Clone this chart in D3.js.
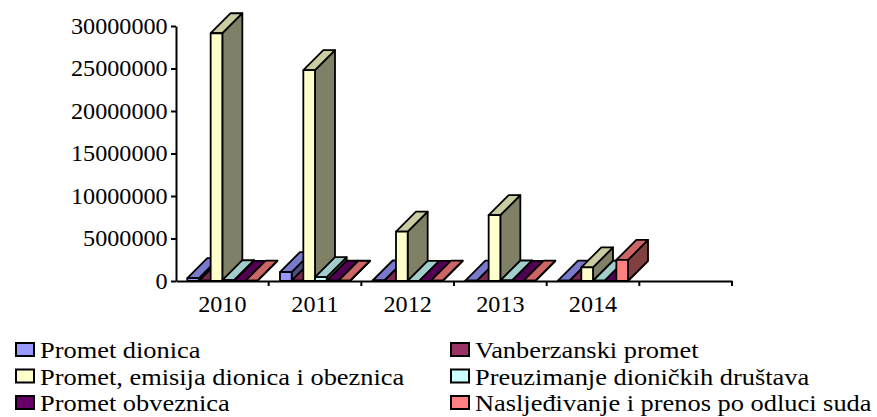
<!DOCTYPE html>
<html>
<head>
<meta charset="utf-8">
<script src="https://cdn.jsdelivr.net/npm/d3@7"></script>
<style>
  body { margin: 0; background: #fff; }
  svg { display: block; font-family: "Liberation Serif", "Times New Roman", serif; }
</style>
</head>
<body>
<svg id="chart" width="877" height="417"></svg>
<script>
// categories (last one is an empty slot on the axis)
const years = ['2010', '2011', '2012', '2013', '2014', ''];

// series values
const prometDionica = [350000, 1050000, 60000, 40000, 50000];
const vanberzanskiPromet = [30000, 40000, 20000, 20000, 30000];
const prometEmisija = [29150000, 24800000, 5800000, 7750000, 1600000];
const preuzimanje = [90000, 450000, 20000, 60000, 30000];
const prometObveznica = [20000, 30000, 10000, 20000, 10000];
const nasljedivanje = [40000, 30000, 40000, 50000, 2480000];

const seriesNames = [
  'Promet dionica',
  'Vanberzanski promet',
  'Promet, emisija dionica i obeznica',
  'Preuzimanje dioničkih društava',
  'Promet obveznica',
  'Nasljeđivanje i prenos po odluci suda'
];
const yTicks = [0, 5000000, 10000000, 15000000, 20000000, 25000000, 30000000];

const seriesColors = ['#9999ff', '#993366', '#ffffcc', '#ccffff', '#660066', '#ff8080'];

const series = [prometDionica, vanberzanskiPromet, prometEmisija, preuzimanje, prometObveznica, nasljedivanje]
  .map((values, i) => ({ name: seriesNames[i], color: seriesColors[i], values }));

const svg = d3.select('#chart');
const plotLeft = 176, plotRight = 732, plotTop = 26, plotBase = 281;
const depth = 20;
const axisStretch = 1.05, legendStretch = 1.1;

const x = d3.scaleBand().domain(years).range([plotLeft, plotRight]).padding(0);
const inner = d3.scaleBand().domain(d3.range(series.length))
  .range([x.bandwidth() * 0.122, x.bandwidth() * 0.878]).padding(0);
const y = d3.scaleLinear().domain([0, 30000000]).range([plotBase, plotTop]);

const shade = (c, k) => {
  const r = d3.rgb(c);
  return d3.rgb(r.r * k, r.g * k, r.b * k).formatHex();
};

// bars, left to right so later ones cover the side faces
const bars = [];
years.slice(0, 5).forEach((yr, ci) => {
  series.forEach((s, si) => {
    bars.push({ yr, si, v: s.values[ci], color: s.color });
  });
});

const g = svg.append('g')
  .attr('stroke', '#000')
  .attr('stroke-width', 1.8)
  .attr('stroke-linejoin', 'round');

bars.forEach((b) => {
  const x0 = x(b.yr) + inner(b.si);
  const w = inner.bandwidth();
  const y1 = y(b.v);
  const y0 = y(0);
  const bar = g.append('g');
  bar.append('polygon')
    .attr('points', [[x0 + w, y1], [x0 + w, y0], [x0 + w + depth, y0 - depth], [x0 + w + depth, y1 - depth]].join(' '))
    .attr('fill', shade(b.color, 0.5));
  bar.append('polygon')
    .attr('points', [[x0, y1], [x0 + w, y1], [x0 + w + depth, y1 - depth], [x0 + depth, y1 - depth]].join(' '))
    .attr('fill', shade(b.color, 0.8));
  bar.append('rect')
    .attr('x', x0)
    .attr('y', y1)
    .attr('width', w)
    .attr('height', y0 - y1)
    .attr('fill', b.color);
});

// y axis
const yAxis = svg.append('g')
  .attr('transform', `translate(${plotLeft},0)`)
  .call(d3.axisLeft(y).tickValues(yTicks).tickFormat(d3.format('d')).tickSize(5).tickSizeOuter(0).tickPadding(3));
yAxis.select('.domain').attr('stroke-width', 2);
yAxis.selectAll('.tick line').attr('stroke-width', 2);
yAxis.selectAll('.tick text')
  .attr('font-size', 23)
  .attr('font-family', '"Liberation Serif", "Times New Roman", serif')
  .attr('fill', '#000')
  .attr('transform', `scale(${axisStretch},1)`);

// x axis
const xAxis = svg.append('g')
  .attr('transform', `translate(0,${plotBase})`)
  .call(d3.axisBottom(x).tickSize(0).tickPadding(15).tickSizeOuter(0));
xAxis.select('.domain').attr('stroke-width', 2);
xAxis.selectAll('.tick text')
  .attr('font-size', 23)
  .attr('font-family', '"Liberation Serif", "Times New Roman", serif')
  .attr('fill', '#000')
  .attr('transform', `scale(${axisStretch},1)`);
xAxis.selectAll('.cat-tick')
  .data(years)
  .enter()
  .append('line')
  .attr('class', 'cat-tick')
  .attr('x1', (d) => x(d) + x.bandwidth())
  .attr('x2', (d) => x(d) + x.bandwidth())
  .attr('y1', 0)
  .attr('y2', 5)
  .attr('stroke', '#000')
  .attr('stroke-width', 2);

// legend, two columns filled row by row
const legend = svg.append('g');
const item = legend.selectAll('g')
  .data(series)
  .enter()
  .append('g')
  .attr('transform', (d, i) => `translate(${i % 2 === 0 ? 16 : 451},${343 + Math.floor(i / 2) * 26.5})`);
item.append('rect')
  .attr('width', 18)
  .attr('height', 13)
  .attr('fill', (d) => d.color)
  .attr('stroke', '#000')
  .attr('stroke-width', 2);
item.append('text')
  .attr('transform', `translate(24,15) scale(${legendStretch},1)`)
  .attr('font-size', 24)
  .attr('fill', '#000')
  .text((d) => d.name);
</script>
</body>
</html>
